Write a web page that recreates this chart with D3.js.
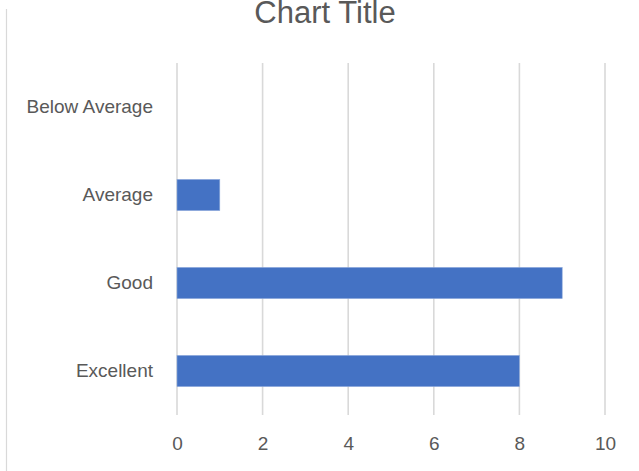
<!DOCTYPE html>
<html>
<head>
<meta charset="utf-8">
<script src="https://cdn.jsdelivr.net/npm/d3@7"></script>
<style>
  html, body { margin: 0; padding: 0; background: #fff; }
  svg { display: block; font-family: "Liberation Sans", Arial, sans-serif; }
</style>
</head>
<body>
<div id="chart-area"></div>
<script>
// data
const categories = ["Below Average", "Average", "Good", "Excellent"];
const values = [0, 1, 9, 8];
const xTicks = [0, 2, 4, 6, 8, 10];
const chartTitle = "Chart Title";

(function () {
  const width = 639, height = 471;
  const margin = { top: 63, right: 34, bottom: 56, left: 177 };

  const svg = d3.select("#chart-area")
    .append("svg")
    .attr("width", width)
    .attr("height", height);

  // chart border (only left edge shows)
  svg.append("line")
    .attr("x1", 6.5).attr("x2", 6.5)
    .attr("y1", 9).attr("y2", height)
    .attr("stroke", "#d9d9d9")
    .attr("stroke-width", 1.2);

  const xScale = d3.scaleLinear()
    .domain([0, 10])
    .range([margin.left, width - margin.right]);

  const yScale = d3.scaleBand()
    .domain(categories)
    .range([margin.top, height - margin.bottom])
    .paddingInner(0.646)
    .paddingOuter(0.323);

  // gridlines
  svg.append("g")
    .selectAll("line")
    .data(xTicks)
    .join("line")
    .attr("x1", (d) => xScale(d))
    .attr("x2", (d) => xScale(d))
    .attr("y1", margin.top)
    .attr("y2", height - margin.bottom)
    .attr("stroke", "#d9d9d9")
    .attr("stroke-width", 1.6);

  // bars
  svg.append("g")
    .selectAll("rect")
    .data(categories.map((c, i) => ({ cat: c, val: values[i] })))
    .join("rect")
    .attr("x", xScale(0))
    .attr("y", (d) => yScale(d.cat))
    .attr("width", (d) => xScale(d.val) - xScale(0))
    .attr("height", yScale.bandwidth())
    .attr("fill", "#4472c4")
    .attr("stroke", "#8eaadb")
    .attr("stroke-width", (d) => (d.val > 0 ? 0.6 : 0));

  // x axis labels
  const xAxis = svg.append("g")
    .attr("transform", `translate(0,${height - margin.bottom})`)
    .call(d3.axisBottom(xScale).tickValues(xTicks).tickSize(0).tickPadding(22));
  xAxis.select(".domain").remove();
  xAxis.selectAll("text")
    .attr("font-size", 19)
    .attr("fill", "#595959")
    .attr("font-family", "Liberation Sans, Arial, sans-serif");

  // category labels
  const yAxis = svg.append("g")
    .attr("transform", `translate(${margin.left},0)`)
    .call(d3.axisLeft(yScale).tickSize(0).tickPadding(24));
  yAxis.select(".domain").remove();
  yAxis.selectAll("text")
    .attr("font-size", 19)
    .attr("fill", "#595959")
    .attr("font-family", "Liberation Sans, Arial, sans-serif");

  // title (clipped at top like the source)
  svg.append("text")
    .attr("x", (253 + 397) / 2)
    .attr("y", 23)
    .attr("text-anchor", "middle")
    .attr("font-size", 31)
    .attr("fill", "#595959")
    .text(chartTitle);
})();
</script>
</body>
</html>
